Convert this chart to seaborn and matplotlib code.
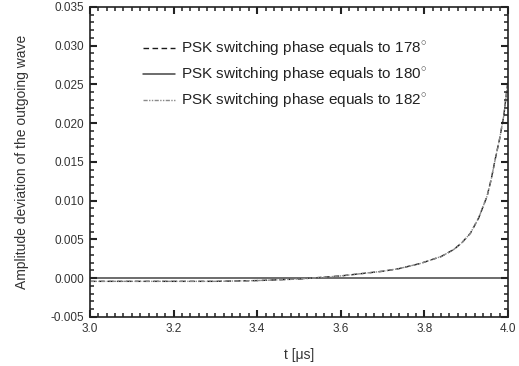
import numpy as np
import pandas as pd
import matplotlib
matplotlib.use("Agg")
import matplotlib.pyplot as plt
import seaborn as sns
from matplotlib.ticker import MultipleLocator, FormatStrFormatter

# ---- data ----
t_us = [3.0, 3.1, 3.2, 3.3, 3.4, 3.5, 3.6, 3.65, 3.7, 3.74, 3.79, 3.84,
        3.87, 3.89, 3.91, 3.93, 3.95, 3.96, 3.97, 3.98, 3.99, 4.0]
dev_178 = [-0.0004, -0.0004, -0.0004, -0.0004, -0.0003, -0.0001, 0.0003,
           0.0006, 0.0009, 0.00125, 0.0019, 0.0028, 0.0037, 0.0046, 0.0058,
           0.0078, 0.0106, 0.0128, 0.0155, 0.0180, 0.0210, 0.0255]
dev_180 = [0.0] * len(t_us)
dev_182 = [-0.0004, -0.0004, -0.0004, -0.0004, -0.0003, -0.0001, 0.0003,
           0.0006, 0.0009, 0.00125, 0.0019, 0.0028, 0.0037, 0.0046, 0.0058,
           0.0078, 0.0106, 0.0128, 0.0155, 0.0180, 0.0210, 0.0255]
labels = ["PSK switching phase equals to 178$^{\\circ}$",
          "PSK switching phase equals to 180$^{\\circ}$",
          "PSK switching phase equals to 182$^{\\circ}$"]

sns.set_theme(style="ticks")
plt.rcParams["font.family"] = ["Liberation Sans", "DejaVu Sans"]
plt.rcParams["mathtext.fontset"] = "custom"
plt.rcParams["mathtext.rm"] = "Liberation Sans"

fig = plt.figure(figsize=(5.19, 3.66), dpi=100)
ax = fig.add_axes([0.1734, 0.1339, 0.8054, 0.847])

series = [
    (dev_178, labels[0], "#1a1a1a", (0, (4, 2.5)), 1.0),
    (dev_180, labels[1], "#444444", "-", 1.1),
    (dev_182, labels[2], "#8a8a8a", (0, (3, 1, 1, 1, 1, 1)), 1.0),
]
for vals, lab, col, ls, lw in series:
    df = pd.DataFrame({"t": t_us, "v": vals})
    sns.lineplot(data=df, x="t", y="v", ax=ax, color=col, linestyle=ls,
                 linewidth=lw, label=lab)

ax.set_xlim(3.0, 4.0)
ax.set_ylim(-0.005, 0.035)
ax.xaxis.set_major_locator(MultipleLocator(0.2))
ax.xaxis.set_minor_locator(MultipleLocator(0.02))
ax.yaxis.set_major_locator(MultipleLocator(0.005))
ax.yaxis.set_minor_locator(MultipleLocator(0.001))
ax.xaxis.set_major_formatter(FormatStrFormatter("%.1f"))
ax.yaxis.set_major_formatter(FormatStrFormatter("%.3f"))

ax.set_axisbelow(False)
ax.tick_params(which="both", direction="in", top=True, right=True,
               bottom=True, left=True, color="#222222")
ax.tick_params(which="major", length=4.8, width=1.5, labelsize=8.5, pad=4,
               labelcolor="#333333")
ax.tick_params(which="minor", length=3.0, width=1.1)
for sp in ax.spines.values():
    sp.set_visible(True)
    sp.set_color("#333333")
    sp.set_linewidth(1.3)

ax.set_xlabel("t [\u03bcs]", fontsize=10, color="#333333", labelpad=10)
ax.set_ylabel("Amplitude deviation of the outgoing wave", fontsize=10,
              color="#333333", labelpad=16)

leg = ax.legend(loc="upper left", bbox_to_anchor=(0.112, 0.914), frameon=False,
                fontsize=11, handlelength=2.1, handletextpad=0.4,
                labelspacing=0.52, borderaxespad=0)
for txt in leg.get_texts():
    txt.set_color("#222222")

fig.savefig("out.png", dpi=100)
